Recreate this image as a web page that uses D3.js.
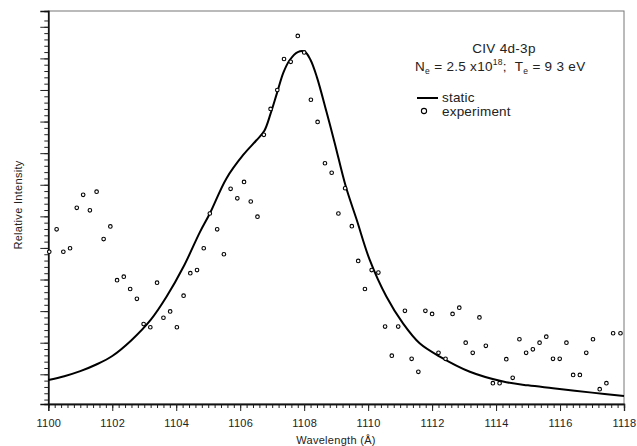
<!DOCTYPE html>
<html>
<head>
<meta charset="utf-8">
<script src="https://cdn.jsdelivr.net/npm/d3@7"></script>
<style>
  html, body { margin: 0; padding: 0; background: #fff; }
  svg { display: block; }
  text { font-family: "Liberation Sans", Arial, Helvetica, sans-serif; fill: #222; }
</style>
</head>
<body>
<svg id="chart" width="637" height="446"></svg>
<script>
// ---- data ----
const staticWavelength = [1100.0, 1100.5, 1101.0, 1101.5, 1102.0, 1102.6, 1103.2, 1103.7, 1104.23, 1104.74,
  1105.05, 1105.57, 1106.1, 1106.5, 1106.75, 1106.95, 1107.15, 1107.35, 1107.55, 1107.8,
  1108.02, 1108.2, 1108.4, 1108.7, 1108.96, 1109.3, 1109.64, 1110.05, 1110.57, 1111.09,
  1111.61, 1112.24, 1113.18, 1114.22, 1115.0, 1115.78, 1117.0, 1118.0];
const staticIntensity = [0.82, 0.94, 1.1, 1.31, 1.58, 2.08, 2.72, 3.46, 4.41, 5.5,
  6.09, 7.2, 7.95, 8.4, 8.7, 9.25, 9.9, 10.55, 10.95, 11.2,
  11.21, 10.95, 10.4, 9.3, 8.3, 6.95, 5.9, 4.62, 3.46, 2.61,
  1.98, 1.56, 1.08, 0.77, 0.65, 0.56, 0.42, 0.31];

const expWavelength = [1100.03, 1100.26, 1100.47, 1100.68, 1100.89, 1101.09, 1101.30, 1101.51, 1101.73, 1101.94,
  1102.15, 1102.36, 1102.56, 1102.77, 1102.98, 1103.19, 1103.40, 1103.60, 1103.81, 1104.02,
  1104.23, 1104.44, 1104.65, 1104.86, 1105.05, 1105.28, 1105.49, 1105.70, 1105.91, 1106.12,
  1106.33, 1106.54, 1106.74, 1106.95, 1107.16, 1107.37, 1107.58, 1107.80, 1108.00, 1108.21,
  1108.42, 1108.65, 1108.86, 1109.07, 1109.28, 1109.49, 1109.69, 1109.90, 1110.11, 1110.32,
  1110.53, 1110.74, 1110.94, 1111.15, 1111.36, 1111.57, 1111.79, 1112.00, 1112.20, 1112.42,
  1112.64, 1112.85, 1113.05, 1113.27, 1113.48, 1113.68, 1113.90, 1114.11, 1114.32, 1114.52,
  1114.73, 1114.94, 1115.15, 1115.36, 1115.57, 1115.78, 1115.99, 1116.20, 1116.41, 1116.62,
  1116.82, 1117.03, 1117.24, 1117.45, 1117.66, 1117.89];
const expIntensity = [4.88, 5.59, 4.88, 4.99, 6.27, 6.68, 6.19, 6.78, 5.28, 5.68,
  3.98, 4.09, 3.70, 3.39, 2.59, 2.49, 3.90, 2.79, 2.99, 2.49,
  3.49, 4.20, 4.30, 4.99, 6.09, 5.59, 4.80, 6.87, 6.57, 7.09,
  6.47, 5.99, 8.58, 9.40, 10.00, 10.98, 10.89, 11.71, 11.19, 9.69,
  8.99, 7.68, 7.38, 6.09, 6.89, 5.69, 4.59, 3.70, 4.30, 4.22,
  2.51, 1.59, 2.51, 3.01, 1.49, 1.08, 3.01, 2.91, 1.68, 1.49,
  2.91, 3.11, 2.00, 1.68, 2.80, 1.90, 0.72, 0.72, 1.48, 0.89,
  2.11, 1.68, 1.79, 2.00, 2.19, 1.49, 1.49, 2.00, 0.98, 0.98,
  1.68, 2.11, 0.53, 0.72, 2.30, 2.30];

const xMajorTicks = [1100, 1102, 1104, 1106, 1108, 1110, 1112, 1114, 1116, 1118];
const yMajorTicks = [1, 2, 3, 4, 5, 6, 7, 8, 9, 10, 11, 12];
const titleLine = "CIV 4d-3p";
const legendLabels = ["static", "experiment"];

// ---- layout ----
const svg = d3.select("#chart");
const x = d3.scaleLinear().domain([1100, 1118]).range([48.3, 624]);
const y = d3.scaleLinear().domain([0.06, 12.5]).range([404, 11]);

const xMinor = d3.range(0, 91).map(i => 1100 + i * 0.2);
const yMinor = d3.range(1, 62).map(i => 0.2 * i).filter(v => v <= 12.45);

// frame (top/right)
svg.append("rect")
  .attr("x", x(1100)).attr("y", y(12.5))
  .attr("width", x(1118) - x(1100)).attr("height", y(0.06) - y(12.5))
  .attr("fill", "none").attr("stroke", "#777").attr("stroke-width", 1);

// x axis minor
const gxMinor = svg.append("g").attr("transform", `translate(0,${y(0.06)})`)
  .call(d3.axisBottom(x).tickValues(xMinor).tickSize(4).tickFormat(""));
// x axis major
const gx = svg.append("g").attr("transform", `translate(0,${y(0.06)})`)
  .call(d3.axisBottom(x).tickValues(xMajorTicks).tickSize(7).tickPadding(8).tickFormat(d3.format("d")));
gx.selectAll("text").attr("font-size", 11).attr("fill", "#222")
  .style("font-family", '"Liberation Sans", Arial, sans-serif')
  .style("letter-spacing", "0.3px");

// y axis minor
const gyMinor = svg.append("g").attr("transform", `translate(${x(1100)},0)`)
  .call(d3.axisLeft(y).tickValues(yMinor).tickSize(4).tickFormat(""));
const gy = svg.append("g").attr("transform", `translate(${x(1100)},0)`)
  .call(d3.axisLeft(y).tickValues(yMajorTicks).tickSize(8).tickFormat(""));

[gxMinor, gx, gyMinor, gy].forEach(g => {
  g.selectAll("path.domain").attr("stroke", "#111").attr("stroke-width", 1.3);
  g.selectAll(".tick line").attr("stroke", "#222").attr("stroke-width", 1);
});

// axis titles
svg.append("text").attr("x", 336).attr("y", 444).attr("text-anchor", "middle")
  .attr("font-size", 11).style("letter-spacing", "0.3px").text("Wavelength (Å)");
svg.append("text").attr("transform", "translate(22,205) rotate(-90)")
  .attr("text-anchor", "middle").attr("font-size", 11).style("letter-spacing", "0.3px")
  .text("Relative Intensity");

// static curve
const staticData = staticWavelength.map((w, i) => [w, staticIntensity[i]]);
svg.append("path").datum(staticData)
  .attr("fill", "none").attr("stroke", "#000").attr("stroke-width", 2)
  .attr("d", d3.line().x(d => x(d[0])).y(d => y(d[1])).curve(d3.curveCatmullRom.alpha(0.5)));

// experiment points
const expData = expWavelength.map((w, i) => [w, expIntensity[i]]);
svg.append("g").selectAll("circle").data(expData).join("circle")
  .attr("cx", d => x(d[0])).attr("cy", d => y(d[1])).attr("r", 1.8)
  .attr("fill", "#fff").attr("stroke", "#000").attr("stroke-width", 1.1);

// annotation
svg.append("text").attr("x", 504).attr("y", 53).attr("text-anchor", "middle")
  .attr("font-size", 13.5).style("letter-spacing", "0.3px").text(titleLine);
const t2 = svg.append("text").attr("x", 415).attr("y", 71).attr("font-size", 13.5)
  .attr("xml:space", "preserve").style("white-space", "pre").style("letter-spacing", "0.3px");
t2.append("tspan").text("N");
t2.append("tspan").attr("font-size", 8.5).attr("dy", 3).text("e");
t2.append("tspan").attr("dy", -3).text(" = 2.5 x10");
t2.append("tspan").attr("font-size", 8.5).attr("dy", -6).text("18");
t2.append("tspan").attr("dy", 6).text(";  T");
t2.append("tspan").attr("font-size", 8.5).attr("dy", 3).text("e");
t2.append("tspan").attr("dy", -3).text(" = 9 3 eV");

// legend
svg.append("line").attr("x1", 417).attr("x2", 438).attr("y1", 98).attr("y2", 98)
  .attr("stroke", "#000").attr("stroke-width", 2);
svg.append("text").attr("x", 442).attr("y", 102).attr("font-size", 13.5)
  .style("letter-spacing", "0.2px").text(legendLabels[0]);
svg.append("circle").attr("cx", 424).attr("cy", 111).attr("r", 2.6)
  .attr("fill", "#fff").attr("stroke", "#000").attr("stroke-width", 1.1);
svg.append("text").attr("x", 442).attr("y", 116).attr("font-size", 13.5)
  .style("letter-spacing", "0.2px").text(legendLabels[1]);
</script>
</body>
</html>
